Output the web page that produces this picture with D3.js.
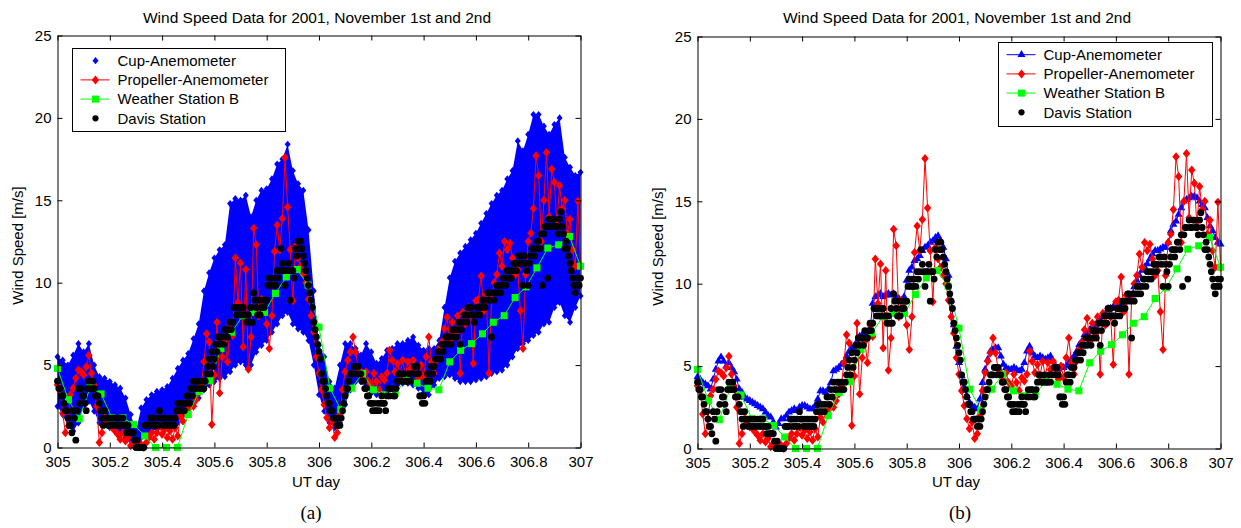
<!DOCTYPE html>
<html>
<head>
<meta charset="utf-8">
<script src="https://cdn.jsdelivr.net/npm/d3@7"></script>
<style>
  body { margin: 0; background: #fff; }
  svg text { font-family: "Liberation Sans", Arial, sans-serif; fill: #000; }
</style>
</head>
<body>
<svg id="chart" width="1241" height="528"></svg>
<script>
// Axis ticks
var xTicks = [305, 305.2, 305.4, 305.6, 305.8, 306, 306.2, 306.4, 306.6, 306.8, 307];
var xTickLabels = ["305", "305.2", "305.4", "305.6", "305.8", "306", "306.2", "306.4", "306.6", "306.8", "307"];
var yTicks = [0, 5, 10, 15, 20, 25];
var seriesNames = ["Cup-Anemometer", "Propeller-Anemometer", "Weather Station B", "Davis Station"];

// Cup anemometer, raw samples: min / max of each 0.02 day bin (m/s)
var cupStep = 0.02;
var cupLow = [
  2.5, 2.0, 1.3, 1.0, 1.5, 2.5, 2.8, 2.2, 1.5, 1.5,
  1.2, 1.0, 0.8, 0.6, 0.4, 0.3, 0.6, 0.9, 1.0, 1.1,
  1.2, 1.2, 1.3, 1.5, 2.0, 2.3, 2.6, 3.0, 3.5, 3.8,
  4.0, 4.2, 4.3, 4.6, 5.0, 5.2, 5.0, 5.0, 5.8, 6.2,
  6.5, 7.0, 7.5, 8.0, 8.2, 7.5, 7.2, 7.0, 6.5, 5.0,
  3.2, 2.2, 1.5, 1.2, 1.5, 2.6, 3.5, 4.0, 4.0, 3.7,
  3.3, 3.2, 3.2, 3.4, 3.6, 3.8, 3.9, 3.9, 3.8, 3.6,
  3.3, 3.2, 3.8, 4.2, 4.3, 4.4, 4.2, 4.0, 4.0, 4.0,
  4.1, 4.2, 4.3, 4.5, 4.6, 4.7, 5.0, 5.5, 6.0, 6.3,
  6.5, 6.8, 7.0, 7.5, 7.6, 8.5, 8.8, 8.0, 7.6, 8.5,
  9.2
];
var cupHigh = [
  5.5, 5.3, 5.0, 5.6, 6.3, 5.8, 6.3, 5.0, 4.3, 4.2,
  4.0, 3.8, 3.6, 3.0, 2.0, 1.0, 2.4, 2.9, 3.2, 3.4,
  3.5, 3.7, 4.2, 4.8, 5.3, 5.7, 6.6, 7.5, 9.5, 10.6,
  11.5, 12.0, 12.3, 14.8, 15.1, 15.0, 15.3, 14.0, 15.0, 15.6,
  15.7, 16.3, 17.2, 17.5, 18.4, 16.8, 16.0, 15.6, 13.2, 9.5,
  6.2, 5.5, 4.0, 3.6, 5.0, 6.3, 6.3, 6.0, 5.6, 6.3,
  5.8, 5.1, 5.4, 5.9, 6.0, 6.3, 6.3, 6.5, 6.7, 6.2,
  5.9, 6.0, 6.0, 6.5, 8.5, 10.3, 11.3, 11.8, 12.2, 12.6,
  13.0, 13.6, 14.2, 14.8, 15.3, 15.6, 16.3, 16.8, 18.6, 18.0,
  19.0, 20.2, 20.2, 19.5, 19.0, 19.6, 20.0, 17.6, 17.0, 16.5,
  16.7
];

// Cup anemometer, averaged (m/s), every 0.01 day
var cupAvgStep = 0.01;
var cupAvg = [
  4.35, 4.2, 4.0, 3.9, 3.8, 3.6, 4.2, 4.8, 5.3, 5.55,
  5.3, 5.0, 5.2, 4.9, 4.65, 4.2, 3.6, 3.4, 3.1, 3.0,
  2.9, 2.8, 2.7, 2.6, 2.5, 2.4, 2.2, 2.0, 1.9, 1.6,
  1.3, 1.5, 1.8, 1.8, 2.0, 2.2, 2.3, 2.4, 2.3, 2.5,
  2.6, 2.6, 2.5, 2.4, 2.4, 2.6, 3.0, 3.5, 3.5, 3.4,
  3.6, 4.0, 4.7, 4.8, 4.9, 5.1, 5.2, 5.6, 5.9, 6.1,
  6.2, 6.5, 6.8, 6.9, 6.8, 6.9, 7.2, 8.8, 9.2, 9.3,
  9.4, 9.2, 9.3, 9.4, 9.3, 9.4, 9.2, 9.1, 9.0, 9.2,
  10.2, 10.8, 11.0, 11.4, 11.5, 11.7, 12.0, 12.2, 12.3, 12.5,
  12.6, 12.8, 12.9, 12.6, 12.2, 11.5, 10.5, 9.0, 7.5, 6.2,
  5.2, 4.4, 3.7, 3.2, 2.8, 2.6, 2.5, 2.4, 3.0, 4.0,
  4.8, 5.4, 5.9, 6.0, 6.1, 6.1, 5.6, 5.1, 4.9, 4.8,
  4.8, 4.9, 4.8, 4.7, 4.8, 5.2, 5.9, 6.2, 5.8, 5.6,
  5.5, 5.6, 5.5, 5.4, 5.5, 5.6, 5.3, 4.9, 4.8, 4.9,
  4.9, 5.0, 5.2, 5.4, 5.6, 5.9, 6.3, 6.5, 6.9, 7.0,
  7.2, 7.4, 7.5, 7.7, 7.8, 8.0, 8.2, 8.4, 8.5, 8.6,
  8.6, 8.7, 8.8, 8.9, 9.0, 9.0, 9.3, 9.8, 10.2, 10.5,
  10.8, 11.0, 11.2, 11.5, 11.8, 12.0, 12.0, 12.1, 12.2, 12.2,
  12.5, 13.2, 13.6, 13.8, 14.2, 14.6, 15.0, 15.1, 15.2, 15.3,
  15.3, 15.2, 15.0, 14.8, 14.6, 14.0, 13.5, 13.2, 12.8, 12.5,
  12.4
];

// Propeller anemometer (m/s), every 0.01 day
var propStep = 0.01;
var propSpeed = [
  3.8, 3.5, 2.1, 0.9, 1.8, 3.2, 3.6, 4.2, 4.7, 4.6,
  4.4, 4.9, 5.6, 4.5, 3.8, 2.5, 0.3, 0.9, 1.8, 1.5,
  1.3, 1.2, 1.0, 0.8, 0.5, 0.9, 0.4, 0.6, 0.1, 0.3,
  0.2, 0.1, 0.2, 0.0, 0.3, 0.6, 0.9, 0.5, 0.9, 1.3,
  0.8, 1.1, 0.6, 1.0, 0.5, 1.2, 0.7, 1.9, 1.6, 2.2,
  2.3, 2.6, 2.5, 2.9, 3.3, 3.8, 5.2, 6.9, 6.4, 1.4,
  4.4, 7.6, 3.3, 5.5, 6.5, 5.2, 7.5, 6.8, 11.5, 8.8,
  11.2, 6.1, 10.8, 4.75, 6.7, 13.3, 12.3, 8.0, 9.0, 8.5,
  7.5, 6.0, 8.0, 11.9, 13.5, 12.0, 13.9, 17.6, 14.6, 12.0,
  8.9, 12.2, 11.5, 11.0, 10.5, 10.0, 9.0, 8.0, 7.0, 5.5,
  4.5, 3.5, 2.6, 1.8, 1.2, 1.6, 0.6, 0.9, 2.0, 3.5,
  4.6, 5.3, 5.8, 6.7, 5.8, 4.8, 4.6, 4.2, 4.6, 4.0,
  3.8, 4.5, 4.0, 3.5, 4.3, 4.1, 4.5, 5.9, 5.3, 4.6,
  5.1, 4.4, 5.3, 4.4, 5.2, 4.8, 5.3, 4.5, 4.2, 5.0,
  4.3, 5.5, 6.7, 5.2, 4.5, 5.3, 6.0, 6.4, 7.2, 7.9,
  6.5, 7.6, 7.0, 8.0, 4.5, 8.2, 7.5, 8.5, 8.0, 5.1,
  8.9, 9.0, 10.4, 8.3, 9.3, 4.5, 9.0, 10.0, 10.5, 11.8,
  11.0, 12.5, 12.0, 12.4, 11.5, 10.5, 10.8, 8.3, 6.0, 10.5,
  12.5, 13.0, 14.5, 17.7, 16.5, 12.5, 15.0, 17.9, 14.0, 16.9,
  16.1, 13.5, 15.9, 14.5, 15.0, 13.0, 13.85, 12.0, 11.0, 14.95,
  11.0
];

// Weather station B (m/s), hourly
var stationBStep = 1 / 24;
var stationBSpeed = [
  4.8, 2.9, 1.75, 3.65, 3.25, 1.8, 1.8, 1.4, 0.7, 0, 0, 0,
  2.0, 3.4, 4.05, 6.0, 7.0, 8.0, 8.2, 8.2, 9.35, 10.35, 10.8, 9.85,
  7.3, 3.6, 2.3, 3.6, 4.5, 3.5, 3.2, 3.3, 4.1, 3.9, 3.6, 3.5,
  5.2, 5.9, 6.3, 6.9, 7.6, 8.0, 9.1, 9.75, 10.9, 12.1, 12.3, 12.8,
  11.0
];

// Davis station, logged in whole mph, every 0.005 day
var davisStep = 0.005;
var mphToMs = 0.44704;
var davisMph = [
  9, 8, 8, 7, 7, 6, 5, 5, 4, 3, 3, 2, 5, 4, 1, 5, 8, 6, 8, 7,            // 305.0
  7, 6, 5, 8, 9, 8, 8, 9, 8, 7, 7, 7, 6, 5, 4, 3, 5, 4, 4, 3,            // 305.1
  4, 3, 4, 3, 4, 3, 4, 3, 4, 3, 4, 3, 3, 2, 3, 2, 2, 2, 2, 1,            // 305.2
  0, 1, 0, 0, 0, 0, 0, 3, 3, 3, 3, 4, 4, 3, 4, 3, 4, 3, 5, 4,            // 305.3
  4, 3, 4, 3, 4, 3, 4, 3, 4, 3, 4, 5, 6, 5, 6, 5, 6, 5, 6, 7,            // 305.4
  7, 6, 8, 7, 9, 8, 8, 9, 9, 8, 9, 8, 8, 9, 10, 11, 12, 10, 13, 11,      // 305.5
  12, 14, 13, 15, 14, 15, 15, 14, 16, 15, 15, 16, 17, 16, 17, 19, 19, 18, 19, 18, // 305.6
  19, 18, 19, 18, 18, 17, 18, 17, 19, 17, 21, 20, 19, 18, 20, 18, 19, 20, 19, 20, // 305.7
  20, 22, 23, 22, 23, 22, 23, 22, 24, 23, 24, 27, 25, 24, 22, 24, 24, 25, 20, 24, // 305.8
  24, 23, 27, 26, 28, 27, 28, 27, 26, 25, 24, 23, 22, 21, 20, 19, 17, 16, 15, 14, // 305.9
  13, 12, 10, 9, 9, 8, 7, 6, 6, 5, 5, 4, 4, 4, 3, 4, 3, 4, 5, 6,         // 306.0
  7, 8, 8, 9, 10, 10, 10, 11, 11, 10, 11, 10, 10, 9, 9, 8, 8, 7, 7, 6,   // 306.1
  6, 5, 6, 5, 5, 6, 5, 6, 7, 6, 6, 5, 7, 8, 7, 8, 8, 7, 7, 8,            // 306.2
  9, 10, 10, 9, 9, 10, 9, 9, 9, 10, 9, 10, 10, 11, 10, 11, 10, 7, 7, 6,  // 306.3
  7, 6, 9, 10, 10, 9, 11, 10, 11, 12, 12, 13, 13, 12, 14, 13, 14, 15, 14, 15, // 306.4
  15, 14, 16, 15, 16, 15, 16, 17, 14, 16, 17, 18, 18, 17, 19, 18, 19, 18, 18, 17, // 306.5
  18, 19, 19, 18, 19, 20, 20, 19, 20, 21, 21, 20, 15, 21, 20, 21, 22, 21, 22, 21, // 306.6
  22, 23, 23, 22, 24, 23, 24, 23, 24, 25, 25, 24, 25, 26, 26, 25, 22, 26, 25, 24, // 306.7
  22, 25, 26, 27, 27, 26, 27, 28, 28, 27, 29, 22, 29, 30, 30, 23, 31, 30, 30, 31, // 306.8
  31, 30, 30, 29, 31, 32, 30, 29, 27, 28, 27, 26, 25, 24, 23, 22, 21, 22, 23, 22, // 306.9
  23
];

var BLUE = "#0000ff", RED = "#ff0000", GREEN = "#00ff00", BLACK = "#000000";

// Matlab-style diamond: a little taller than wide
var diamondType = {
  draw: function(ctx, size) {
    var w = Math.sqrt(size) / 2, h = w * 1.2;
    ctx.moveTo(0, -h);
    ctx.lineTo(w, 0);
    ctx.lineTo(0, h);
    ctx.lineTo(-w, 0);
    ctx.closePath();
  }
};

function series(values, step) {
  return values.map(function(v, i) { return {t: 305 + i * step, v: v}; });
}

var cupRange = cupLow.map(function(lo, i) { return {t: 305 + i * cupStep, lo: lo, hi: cupHigh[i]}; });
var cupLine = series(cupAvg, cupAvgStep);
var propeller = series(propSpeed, propStep);
var stationB = series(stationBSpeed, stationBStep);
var davis = davisMph.map(function(m, i) { return {t: 305 + i * davisStep, v: m * mphToMs}; });

var panels = [
  {left: 57.5, right: 580.5, top: 35.5, bottom: 447.5, cupMode: "cloud",
   legend: {x: 72.5, y: 48.5, w: 213, h: 83}, tag: "(a)", tagX: 311},
  {left: 697.5, right: 1220.5, top: 36.5, bottom: 448.5, cupMode: "line",
   legend: {x: 998.5, y: 42.5, w: 214, h: 84}, tag: "(b)", tagX: 960}
];

var svg = d3.select("#chart");

function drawPanel(p) {
  var x = d3.scaleLinear().domain([305, 307]).range([p.left, p.right]);
  var y = d3.scaleLinear().domain([0, 25]).range([p.bottom, p.top]);
  var g = svg.append("g");

  // Cup anemometer
  if (p.cupMode === "cloud") {
    g.append("path")
      .datum(cupRange)
      .attr("fill", BLUE)
      .attr("d", d3.area().x(function(d) { return x(d.t); })
        .y0(function(d) { return y(d.lo); })
        .y1(function(d) { return y(d.hi); }));
    var edges = [];
    cupRange.forEach(function(d) {
      edges.push({t: d.t, v: d.hi});
      edges.push({t: d.t, v: d.lo});
    });
    g.append("g").selectAll("path").data(edges).join("path")
      .attr("transform", function(d) { return "translate(" + x(d.t) + "," + y(d.v) + ")"; })
      .attr("d", d3.symbol(diamondType, 36))
      .attr("fill", BLUE);
  } else {
    g.append("path")
      .datum(cupLine)
      .attr("fill", "none")
      .attr("stroke", BLUE)
      .attr("stroke-width", 1)
      .attr("d", d3.line().x(function(d) { return x(d.t); }).y(function(d) { return y(d.v); }));
    g.append("g").selectAll("path").data(cupLine).join("path")
      .attr("transform", function(d) { return "translate(" + x(d.t) + "," + y(d.v) + ")"; })
      .attr("d", d3.symbol(d3.symbolTriangle, 28))
      .attr("fill", BLUE);
  }

  // Propeller anemometer
  g.append("path")
    .datum(propeller)
    .attr("fill", "none")
    .attr("stroke", RED)
    .attr("d", d3.line().x(function(d) { return x(d.t); }).y(function(d) { return y(d.v); }));
  g.append("g").selectAll("path").data(propeller).join("path")
    .attr("transform", function(d) { return "translate(" + x(d.t) + "," + y(d.v) + ")"; })
    .attr("d", d3.symbol(diamondType, 56))
    .attr("fill", RED);

  // Weather station B
  g.append("path")
    .datum(stationB)
    .attr("fill", "none")
    .attr("stroke", GREEN)
    .attr("d", d3.line().x(function(d) { return x(d.t); }).y(function(d) { return y(d.v); }));
  g.append("g").selectAll("path").data(stationB).join("path")
    .attr("transform", function(d) { return "translate(" + x(d.t) + "," + y(d.v) + ")"; })
    .attr("d", d3.symbol(d3.symbolSquare, 50))
    .attr("fill", GREEN);

  // Davis station
  g.append("g").selectAll("circle").data(davis).join("circle")
    .attr("cx", function(d) { return x(d.t); })
    .attr("cy", function(d) { return y(d.v); })
    .attr("r", 3.4)
    .attr("fill", BLACK);

  // Axes box with inward ticks on all four sides
  function styleAxis(sel) {
    sel.attr("font-family", null).attr("font-size", 15);
    sel.selectAll("path.domain").attr("stroke", "#000");
    sel.selectAll(".tick line").attr("stroke", "#000");
  }
  g.append("g").attr("transform", "translate(0," + p.bottom + ")")
    .call(d3.axisBottom(x).tickValues(xTicks)
      .tickFormat(function(d, i) { return xTickLabels[i]; })
      .tickSizeInner(-5).tickSizeOuter(0).tickPadding(9))
    .call(styleAxis);
  g.append("g").attr("transform", "translate(0," + p.top + ")")
    .call(d3.axisTop(x).tickValues(xTicks).tickFormat("")
      .tickSizeInner(-5).tickSizeOuter(0))
    .call(styleAxis);
  g.append("g").attr("transform", "translate(" + p.left + ",0)")
    .call(d3.axisLeft(y).tickValues(yTicks)
      .tickSizeInner(-5).tickSizeOuter(0).tickPadding(6))
    .call(styleAxis);
  g.append("g").attr("transform", "translate(" + p.right + ",0)")
    .call(d3.axisRight(y).tickValues(yTicks).tickFormat("")
      .tickSizeInner(-5).tickSizeOuter(0))
    .call(styleAxis);

  var cx = (p.left + p.right) / 2;
  g.append("text")
    .attr("x", cx - 2).attr("y", 23)
    .attr("text-anchor", "middle").attr("font-size", 15.5)
    .text("Wind Speed Data for 2001, November 1st and 2nd");
  g.append("text")
    .attr("x", cx - 3).attr("y", 486.5)
    .attr("text-anchor", "middle").attr("font-size", 15)
    .text("UT day");
  g.append("text")
    .attr("transform", "translate(" + (p.left - 34.5) + "," + ((p.top + p.bottom) / 2 + 4) + ") rotate(-90)")
    .attr("text-anchor", "middle").attr("font-size", 15)
    .text("Wind Speed [m/s]");
  g.append("text")
    .attr("x", p.tagX).attr("y", 519)
    .attr("text-anchor", "middle").attr("font-size", 19)
    .style("font-family", "'Liberation Serif', 'Times New Roman', serif")
    .text(p.tag);

  // Legend
  var L = p.legend;
  var lg = g.append("g");
  lg.append("rect")
    .attr("x", L.x).attr("y", L.y).attr("width", L.w).attr("height", L.h)
    .attr("fill", "#fff").attr("stroke", "#000");
  var rowH = 19.2, mx = L.x + 23, lineX0 = L.x + 8, lineX1 = L.x + 37;
  var styles = [
    {color: BLUE, line: p.cupMode === "line", sym: p.cupMode === "line" ? d3.symbolTriangle : diamondType,
     size: p.cupMode === "line" ? 28 : 36},
    {color: RED, line: true, sym: diamondType, size: 56},
    {color: GREEN, line: true, sym: d3.symbolSquare, size: 50},
    {color: BLACK, line: false, sym: d3.symbolCircle, size: 30}
  ];
  seriesNames.forEach(function(name, i) {
    var cy = L.y + 12.2 + i * rowH;
    var s = styles[i];
    if (s.line) {
      lg.append("line")
        .attr("x1", lineX0).attr("x2", lineX1).attr("y1", cy).attr("y2", cy)
        .attr("stroke", s.color);
    }
    lg.append("path")
      .attr("transform", "translate(" + mx + "," + cy + ")")
      .attr("d", d3.symbol(s.sym, s.size))
      .attr("fill", s.color);
    lg.append("text")
      .attr("x", L.x + 45).attr("y", cy + 5.3)
      .attr("font-size", 15)
      .text(name);
  });
}

panels.forEach(drawPanel);
</script>
</body>
</html>
